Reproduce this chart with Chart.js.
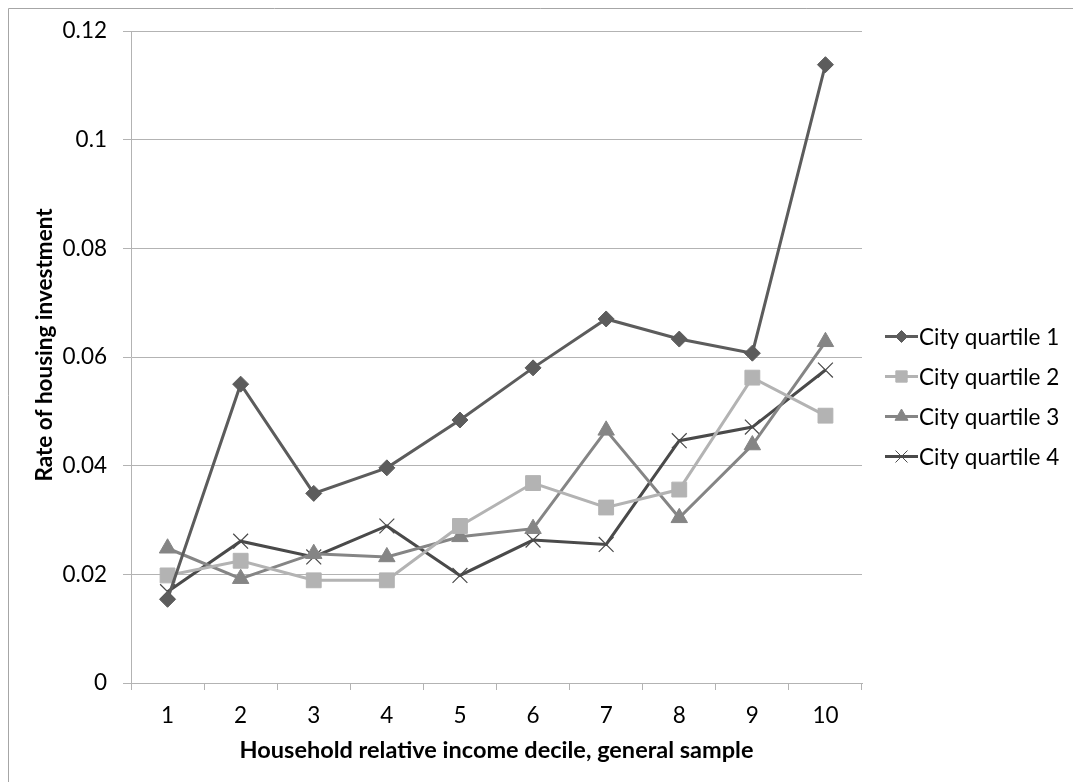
<!DOCTYPE html>
<html>
<head>
<meta charset="utf-8">
<script src="https://cdn.jsdelivr.net/npm/chart.js@4/dist/chart.umd.min.js"></script>
<style>
  html, body { margin: 0; padding: 0; background: #fff; }
  canvas { display: block; }
</style>
</head>
<body>
<canvas id="c" width="1073" height="782"></canvas>
<script>
// Household relative income deciles
const deciles = ['1', '2', '3', '4', '5', '6', '7', '8', '9', '10'];

// Rate of housing investment by city quartile
const cityQuartile1 = [0.0154, 0.0550, 0.0349, 0.0396, 0.0484, 0.0580, 0.0670, 0.0633, 0.0607, 0.1138];
const cityQuartile2 = [0.0198, 0.0225, 0.0189, 0.0189, 0.0289, 0.0368, 0.0323, 0.0356, 0.0562, 0.0492];
const cityQuartile3 = [0.0248, 0.0192, 0.0238, 0.0232, 0.0269, 0.0284, 0.0465, 0.0304, 0.0438, 0.0628];
const cityQuartile4 = [0.0168, 0.0261, 0.0232, 0.0289, 0.0198, 0.0263, 0.0255, 0.0446, 0.0471, 0.0576];

const seriesNames = ['City quartile 1', 'City quartile 2', 'City quartile 3', 'City quartile 4'];
const yTickLabels = ['0', '0.02', '0.04', '0.06', '0.08', '0.1', '0.12'];

const xTitle = 'Household relative income decile, general sample';
const yTitle = 'Rate of housing investment';

const FONT = 'Lato, Carlito, Calibri, sans-serif';
const GRID = '#b3b3b3';

const styles = [
  { color: '#5c5c5c', point: 'rectRot', radius: 8, legendRadius: 6 },
  { color: '#b3b3b3', point: 'rect', radius: 10.5, legendRadius: 8 },
  { color: '#858585', point: 'triangle', radius: 9.5, legendRadius: 7.5 },
  { color: '#4a4a4a', point: 'crossRot', radius: 10.5, legendRadius: 8.5 }
];

function makeDataset(label, data, s) {
  return {
    label: label,
    data: data,
    borderColor: s.color,
    backgroundColor: s.color,
    borderWidth: 3,
    pointStyle: s.point,
    pointRadius: s.radius,
    pointHoverRadius: s.radius,
    pointBorderWidth: s.point === 'crossRot' ? 1.2 : 1,
    pointBorderColor: s.color,
    pointBackgroundColor: s.color,
    tension: 0,
    fill: false
  };
}

// Frame line along the top and left edges of the chart box
const framePlugin = {
  id: 'frame',
  beforeDraw(chart) {
    const ctx = chart.ctx;
    ctx.save();
    ctx.strokeStyle = '#a6a6a6';
    ctx.lineWidth = 1;
    ctx.beginPath();
    ctx.moveTo(8.5, chart.height);
    ctx.lineTo(8.5, 8.5);
    ctx.lineTo(chart.width, 8.5);
    ctx.stroke();
    ctx.restore();
  }
};

// Vertical axis title, placed left of the tick labels
const yTitlePlugin = {
  id: 'yTitle',
  afterDraw(chart) {
    const ctx = chart.ctx;
    ctx.save();
    ctx.translate(45, 345);
    ctx.rotate(-Math.PI / 2);
    ctx.font = 'bold 22.5px ' + FONT;
    ctx.fillStyle = '#000';
    ctx.textAlign = 'center';
    ctx.textBaseline = 'middle';
    ctx.fillText(yTitle, 0, 0);
    ctx.restore();
  }
};

// Legend on the right: a line sample with the series marker, then the name
const sideLegendPlugin = {
  id: 'sideLegend',
  afterDraw(chart) {
    const ctx = chart.ctx;
    ctx.save();
    chart.data.datasets.forEach((ds, i) => {
      const s = styles[i];
      const y = 336.5 + 40 * i;
      ctx.strokeStyle = s.color;
      ctx.lineWidth = 3;
      ctx.beginPath();
      ctx.moveTo(885, y);
      ctx.lineTo(918, y);
      ctx.stroke();
      ctx.fillStyle = s.color;
      ctx.strokeStyle = s.color;
      ctx.lineWidth = 1;
      Chart.helpers.drawPoint(ctx, {
        pointStyle: s.point,
        radius: s.legendRadius,
        borderWidth: 1,
        rotation: 0
      }, 901.5, y);
      ctx.fillStyle = '#000';
      ctx.font = '22.5px ' + FONT;
      ctx.textAlign = 'left';
      ctx.textBaseline = 'middle';
      ctx.fillText(ds.label, 919, y + 1);
    });
    ctx.restore();
  }
};

new Chart(document.getElementById('c'), {
  type: 'line',
  data: {
    labels: deciles,
    datasets: [
      makeDataset(seriesNames[0], cityQuartile1, styles[0]),
      makeDataset(seriesNames[1], cityQuartile2, styles[1]),
      makeDataset(seriesNames[2], cityQuartile3, styles[2]),
      makeDataset(seriesNames[3], cityQuartile4, styles[3])
    ]
  },
  options: {
    responsive: false,
    animation: false,
    devicePixelRatio: 1,
    layout: { padding: { left: 0, top: 31, right: 211, bottom: 0 } },
    plugins: {
      legend: { display: false },
      tooltip: { enabled: false },
      title: { display: false }
    },
    scales: {
      x: {
        type: 'category',
        offset: true,
        grid: {
          display: true,
          offset: true,
          drawOnChartArea: false,
          drawTicks: true,
          tickLength: 7,
          color: GRID,
          lineWidth: 1
        },
        border: { display: true, color: GRID, width: 1 },
        ticks: {
          color: '#000',
          font: { family: FONT, size: 22.5 },
          padding: 12,
          maxRotation: 0,
          autoSkip: false
        },
        title: {
          display: true,
          text: xTitle,
          color: '#000',
          font: { family: FONT, size: 23.5, weight: 'bold' },
          padding: { top: 0, bottom: 17 }
        },
        afterFit(scale) { scale.height = 99; }
      },
      y: {
        min: 0,
        max: 0.12,
        grid: {
          color: GRID,
          lineWidth: 1,
          drawTicks: true,
          tickLength: 8
        },
        border: { display: true, color: GRID, width: 1 },
        ticks: {
          stepSize: 0.02,
          color: '#000',
          font: { family: FONT, size: 22.5 },
          padding: 16,
          callback: (value, index) => yTickLabels[index]
        },
        afterFit(scale) { scale.width = 131; }
      }
    }
  },
  plugins: [framePlugin, yTitlePlugin, sideLegendPlugin]
});
</script>
</body>
</html>
